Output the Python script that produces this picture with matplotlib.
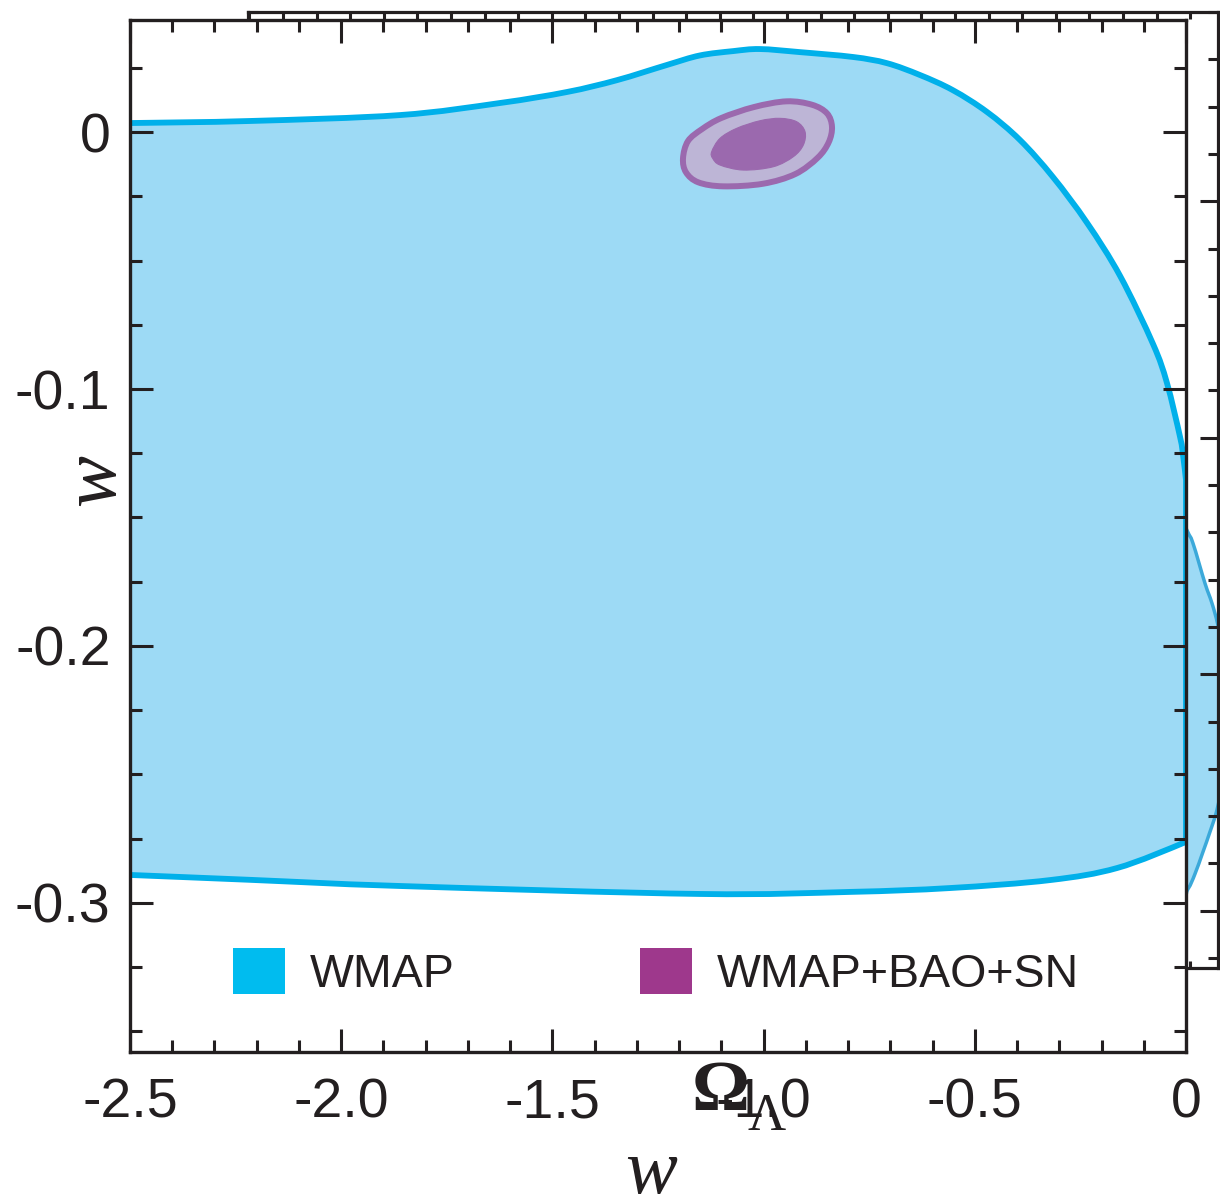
import matplotlib
matplotlib.use("Agg")
import matplotlib.pyplot as plt
from matplotlib.patches import PathPatch, Patch
from matplotlib.path import Path
from matplotlib.ticker import MultipleLocator, FixedLocator

plt.rcParams['font.family'] = ['Liberation Sans', 'DejaVu Sans']
plt.rcParams['axes.unicode_minus'] = False

INK = '#231F20'

# WMAP-only allowed region: upper edge (left to right), then lower edge (right to left)
wmap_upper_w = [-2.6, -2.5, -2.216, -1.861, -1.624, -1.465, -1.347, -1.229, -1.151,
                -1.072, -1.009, -0.914, -0.788, -0.708, -0.630, -0.552, -0.471, -0.393,
                -0.315, -0.234, -0.156, -0.078, -0.045, -0.014, -0.007, 0.0]
wmap_upper_y = [0.0033, 0.0035, 0.0043, 0.0066, 0.0113, 0.0156, 0.0202, 0.0261, 0.0298,
                0.0315, 0.0323, 0.0311, 0.0292, 0.0268, 0.0222, 0.0163, 0.0078, -0.0031,
                -0.0175, -0.0354, -0.0560, -0.0825, -0.0977, -0.1187, -0.1257, -0.1354]
wmap_lower_w = [0.0, -0.007, -0.163, -0.322, -0.559, -0.795, -1.151, -1.861, -2.216, -2.5, -2.6]
wmap_lower_y = [-0.2755, -0.2767, -0.2864, -0.2911, -0.2942, -0.2957, -0.2965, -0.2934,
                -0.2910, -0.2891, -0.2885]

# WMAP+BAO+SN joint constraints: outer (95%) and inner (68%) contours
joint_outer_w = [-1.1908, -1.1790, -1.1456, -1.1002, -1.0227, -0.9453, -0.8854, -0.8499,
                 -0.8381, -0.8459, -0.8719, -0.9249, -1.0014, -1.0954, -1.1546, -1.1837]
joint_outer_y = [-0.01023, -0.00350, 0.00117, 0.00545, 0.00973, 0.01195, 0.01062, 0.00728,
                 0.00206, -0.00401, -0.01000, -0.01634, -0.02012, -0.02113, -0.01957, -0.01568]
joint_inner_w = [-1.1229, -1.1032, -1.0637, -1.0085, -0.9612, -0.9217, -0.9019,
                 -0.9060, -0.9297, -0.9770, -1.0481, -1.1032, -1.1205]
joint_inner_y = [-0.00767, -0.00245, 0.00144, 0.00440, 0.00533, 0.00401, 0.00012,
                 -0.00506, -0.00961, -0.01350, -0.01479, -0.01284, -0.01023]

# Neighbouring Omega_Lambda panel: WMAP region near its right edge
panel_u = [25.315, 27.101, 27.875, 28.083, 28.440, 28.649, 28.827, 29.065, 29.185,
           29.155, 29.006, 28.798, 28.589, 28.381, 28.143, 27.935, 27.548, 25.315]
panel_v = [12.220, 10.317, 9.091, 8.774, 7.928, 7.505, 7.040, 6.195, 5.455,
           4.609, 3.869, 3.129, 2.664, 2.241, 1.776, 1.459, 1.121, 0.486]

x_ticks = [-2.5, -2.0, -1.5, -1.0, -0.5, 0.0]
x_tick_labels = ['-2.5', '-2.0', '-1.5', '-1.0', '-0.5', '0']
y_ticks = [0.0, -0.1, -0.2, -0.3]
y_tick_labels = ['0', '-0.1', '-0.2', '-0.3']

legend_labels = ['WMAP', 'WMAP+BAO+SN']
legend_colors = ['#00BCEF', '#9E388C']

wmap_fill = '#9DDAF5'
wmap_edge = '#00B0EA'
panel_edge = '#3BA9DA'
ring_fill = '#BDB5D6'
joint_purple = '#9B69AE'


def smooth_path(xs, ys, closed=False):
    """Smooth cubic Bezier path through the given contour points."""
    pts = list(zip(xs, ys))
    n = len(pts)
    if closed:
        get = lambda i: pts[i % n]
        segs = range(n)
    else:
        get = lambda i: pts[min(max(i, 0), n - 1)]
        segs = range(n - 1)
    verts = [pts[0]]
    codes = [Path.MOVETO]
    for i in segs:
        p0, p1, p2, p3 = get(i - 1), get(i), get(i + 1), get(i + 2)
        c1 = (p1[0] + (p2[0] - p0[0]) / 6, p1[1] + (p2[1] - p0[1]) / 6)
        c2 = (p2[0] - (p3[0] - p1[0]) / 6, p2[1] - (p3[1] - p1[1]) / 6)
        verts += [c1, c2, p2]
        codes += [Path.CURVE4] * 3
    if closed:
        verts.append(pts[0])
        codes.append(Path.CLOSEPOLY)
    return verts, codes


W, H = 1220, 1201
fig = plt.figure(figsize=(W / 100, H / 100), dpi=100)

# ---- background panel (partly hidden behind the main axes) ----
bg = fig.add_axes([248 / W, 1 - 968 / H, (1218 - 248) / W, (968 - 12) / H], zorder=1)
bg.set_xlim(-0.04, 28.83)
bg.set_ylim(-0.21, 20.0)
v, c = smooth_path(panel_u, panel_v, closed=True)
bg.add_patch(PathPatch(Path(v, c), facecolor=wmap_fill, edgecolor=panel_edge, linewidth=2.5))
bg.xaxis.set_major_locator(MultipleLocator(1))
bg.yaxis.set_major_locator(FixedLocator([1, 6, 11, 16]))
bg.yaxis.set_minor_locator(MultipleLocator(1))
bg.tick_params(axis='x', which='both', direction='in', top=True, bottom=True,
               length=5, width=2.2, color=INK, labelbottom=False)
bg.tick_params(axis='y', which='major', direction='in', left=True, right=True,
               length=13, width=2.2, color=INK, labelleft=False)
bg.tick_params(axis='y', which='minor', direction='in', left=True, right=True,
               length=7, width=2.2, color=INK)
for s in bg.spines.values():
    s.set_linewidth(2.3)
    s.set_color(INK)

# ---- main w panel ----
ax = fig.add_axes([130 / W, 1 - 1052 / H, (1186 - 130) / W, (1052 - 20) / H], zorder=2)
ax.set_facecolor('white')
ax.set_xlim(-2.5, 0.0)
ax.set_ylim(-0.358, 0.0436)

# WMAP region: smooth upper edge, straight run down the w = 0 edge, smooth lower edge
uv, uc = smooth_path(wmap_upper_w, wmap_upper_y)
lv, lc = smooth_path(wmap_lower_w, wmap_lower_y)
verts = uv + lv + [uv[0]]
codes = uc + [Path.LINETO] + lc[1:] + [Path.CLOSEPOLY]
ax.add_patch(PathPatch(Path(verts, codes), facecolor=wmap_fill, edgecolor=wmap_edge,
                       linewidth=4.2, joinstyle='round'))

v, c = smooth_path(joint_outer_w, joint_outer_y, closed=True)
ax.add_patch(PathPatch(Path(v, c), facecolor=ring_fill, edgecolor=joint_purple,
                       linewidth=4.3))
v, c = smooth_path(joint_inner_w, joint_inner_y, closed=True)
ax.add_patch(PathPatch(Path(v, c), facecolor=joint_purple, edgecolor=joint_purple,
                       linewidth=0.8))

ax.set_xticks(x_ticks)
ax.set_xticklabels(x_tick_labels)
ax.set_yticks(y_ticks)
ax.set_yticklabels(y_tick_labels)
ax.xaxis.set_minor_locator(MultipleLocator(0.1))
ax.yaxis.set_minor_locator(MultipleLocator(0.025))
ax.tick_params(which='both', direction='in', top=True, right=True, width=2.2,
               color=INK, labelcolor=INK, labelsize=40)
ax.tick_params(which='major', length=16.5)
ax.tick_params(which='minor', length=8.6)
ax.tick_params(axis='x', pad=18)
ax.tick_params(axis='y', pad=14)
for s in ax.spines.values():
    s.set_linewidth(2.4)
    s.set_color(INK)

xl = ax.set_xlabel('w', family='Liberation Serif', style='italic', fontsize=56, color=INK)
ax.xaxis.set_label_coords((651 - 130) / 1056, (1052 - 1193) / 1032)
xl.set_verticalalignment('baseline')
yl = ax.set_ylabel('w', family='Liberation Serif', style='italic', fontsize=56, color=INK)
ax.yaxis.set_label_coords((95 - 130) / 1056, (1052 - 480) / 1032)
yl.set_verticalalignment('center')
yl.set_horizontalalignment('center')

handles = [Patch(facecolor=col, edgecolor='none') for col in legend_colors]
leg = ax.legend(handles, legend_labels, loc='lower left',
                bbox_to_anchor=((233 - 130) / 1056, (1052 - 997) / 1032),
                ncol=2, frameon=False, fontsize=33.5, handlelength=1.12,
                handleheight=1.14, handletextpad=0.52, columnspacing=4.0,
                borderpad=0, borderaxespad=0)
for t in leg.get_texts():
    t.set_color(INK)

# Omega_Lambda label of the neighbouring panel
fig.text(692 / W, 1 - 1110 / H, 'Ω', family='Liberation Serif', weight='bold',
         fontsize=52, color=INK, ha='left', va='baseline', zorder=5)
fig.text(748 / W, 1 - 1130 / H, 'Λ', family='Liberation Serif',
         fontsize=38, color=INK, ha='left', va='baseline', zorder=5)

fig.savefig('out.png', dpi=100)
